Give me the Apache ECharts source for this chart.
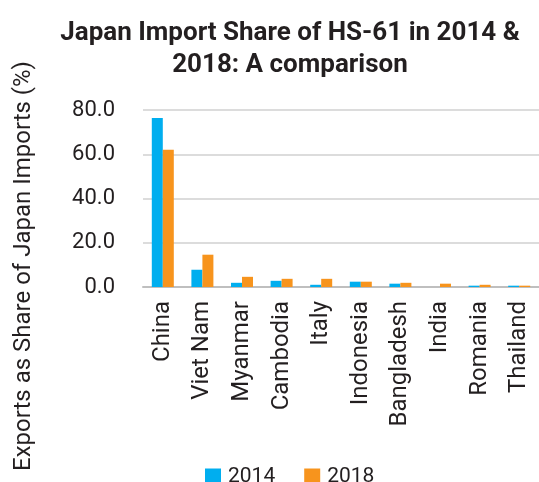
<!DOCTYPE html>
<html>
<head>
<meta charset="utf-8">
<script src="https://cdn.jsdelivr.net/npm/echarts@6/dist/echarts.min.js"></script>
<style>
html,body{margin:0;padding:0;background:#fff;}
#main{width:539px;height:482px;}
</style>
</head>
<body>
<div id="main"></div>
<script>
var countries = ['China','Viet Nam','Myanmar','Cambodia','Italy','Indonesia','Bangladesh','India','Romania','Thailand'];
var share2014 = [76.4, 7.8, 1.9, 2.8, 1.0, 2.4, 1.5, 0.0, 0.6, 0.6];
var share2018 = [62.0, 14.6, 4.6, 3.7, 3.7, 2.4, 1.9, 1.5, 1.0, 0.6];
var yTicks = [0, 20, 40, 60, 80];

var font = 'Roboto';
var myChart = echarts.init(document.getElementById('main'));
var option = {
    animation: false,
    textStyle: { fontFamily: font, color: '#231f20' },
    title: {
        text: 'Japan Import Share of HS-61 in 2014 &\n2018: A comparison',
        left: 285,
        top: 12,
        textAlign: 'center',
        textStyle: { fontFamily: font, fontSize: 26, fontWeight: 'bold', color: '#231f20', lineHeight: 32 }
    },
    legend: {
        data: ['2014', '2018'],
        top: 461,
        left: 200,
        icon: 'rect',
        itemWidth: 16,
        itemHeight: 16,
        itemGap: 29,
        textStyle: { fontFamily: font, fontSize: 21, color: '#231f20', padding: [0, 0, 0, 2] }
    },
    graphic: [{
        type: 'text',
        x: 24,
        y: 266,
        rotation: Math.PI / 2,
        style: {
            text: 'Exports as Share of Japan Imports (%)',
            font: '24px ' + font,
            fill: '#231f20',
            align: 'center',
            verticalAlign: 'middle'
        }
    }],
    grid: { left: 143, right: 0, top: 110, bottom: 195 },
    xAxis: {
        type: 'category',
        data: countries,
        axisLine: { lineStyle: { color: '#bfbfbf', width: 2 } },
        axisTick: { show: false },
        axisLabel: { rotate: 90, fontSize: 24, color: '#231f20', margin: 14, interval: 0 }
    },
    yAxis: {
        type: 'value',
        min: yTicks[0],
        max: yTicks[yTicks.length - 1],
        interval: 20,
        axisLine: { show: false },
        axisTick: { show: false },
        splitLine: { lineStyle: { color: '#d0d0d0', width: 1.5 } },
        axisLabel: {
            fontSize: 22, color: '#231f20', margin: 28,
            formatter: function (v) { return v.toFixed(1); }
        }
    },
    series: [
        { name: '2014', type: 'bar', data: share2014, barWidth: 11, barGap: '0%', itemStyle: { color: '#00aeef' } },
        { name: '2018', type: 'bar', data: share2018, barWidth: 11, itemStyle: { color: '#f7941d' } }
    ]
};
myChart.setOption(option);
window.addEventListener('resize', function () { myChart.resize(); });
</script>
</body>
</html>
